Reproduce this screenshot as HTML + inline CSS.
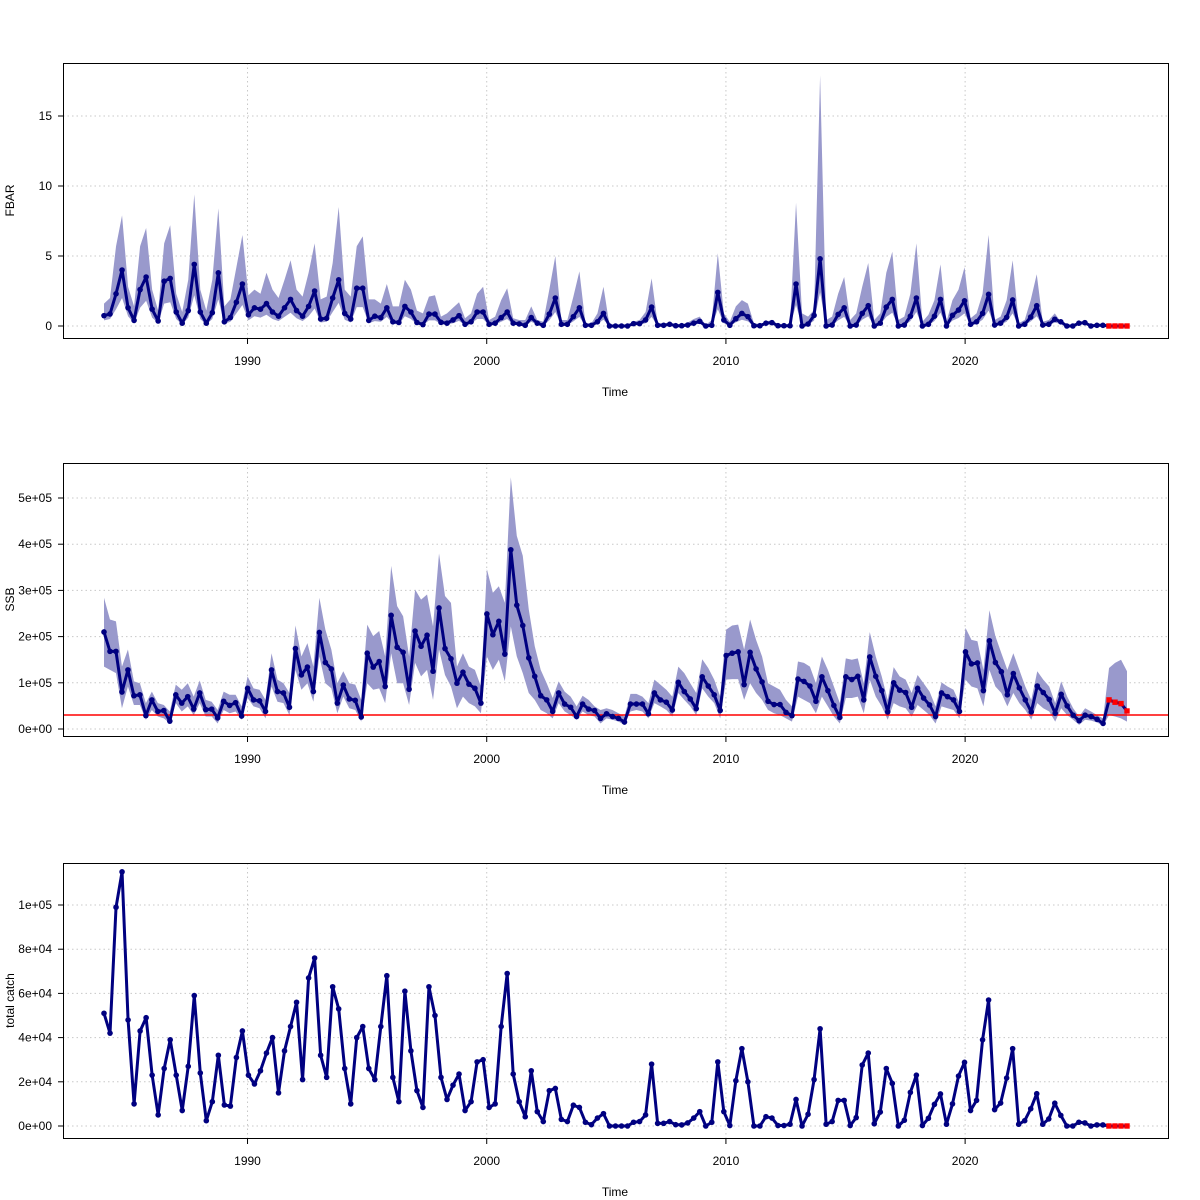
<!DOCTYPE html>
<html><head><meta charset="utf-8"><style>
html,body{margin:0;padding:0;background:#fff}
svg{display:block;font-family:"Liberation Sans",Arial,sans-serif}
</style></head><body>
<svg id="chart" width="1200" height="1200" viewBox="0 0 1200 1200" xmlns="http://www.w3.org/2000/svg"></svg>
<script>
const xTicks=[1990,2000,2010,2020];
const fbarTicks=[0,5,10,15];
const fbarTickLabels=["0","5","10","15"];
const ssbTicks=[0,100000,200000,300000,400000,500000];
const ssbTickLabels=["0e+00","1e+05","2e+05","3e+05","4e+05","5e+05"];
const catchTicks=[0,20000,40000,60000,80000,100000];
const catchTickLabels=["0e+00","2e+04","4e+04","6e+04","8e+04","1e+05"];
const fbar=[0.74,0.86,2.3,4.0, 1.3,0.4,2.6,3.5, 1.2,0.36,3.2,3.4, 1.0,0.2,1.1,4.4, 1.0,0.2,0.95,3.8, 0.3,0.6,1.7,3.0,
0.8,1.3,1.2,1.6, 1.0,0.7,1.3,1.9, 1.1,0.7,1.4,2.5, 0.5,0.55,2.0,3.3, 0.9,0.5,2.7,2.7, 0.4,0.7,0.6,1.3,
0.3,0.25,1.4,1.0, 0.25,0.1,0.85,0.85, 0.26,0.2,0.43,0.74, 0.12,0.3,1.0,1.0, 0.12,0.2,0.6,1.0, 0.2,0.15,0.05,0.6,
0.2,0.05,0.85,2.0, 0.12,0.12,0.67,1.3, 0.05,0.05,0.3,0.9, 0,0,0,0, 0.17,0.17,0.43,1.35, 0.05,0.05,0.12,0.02,
0.02,0.07,0.2,0.33, 0,0.05,2.4,0.43, 0.05,0.52,0.9,0.67, 0.02,0.02,0.2,0.24, 0.02,0.02,0.02,3.0, 0,0.14,0.76,4.8,
0,0.07,0.83,1.3, 0,0.07,0.9,1.45, 0,0.2,1.35,1.9, 0,0.07,0.7,2.0, 0,0.12,0.7,1.9, 0,0.76,1.14,1.8,
0.12,0.3,0.9,2.26, 0.07,0.2,0.62,1.86, 0,0.12,0.64,1.45, 0.07,0.12,0.48,0.3, 0,0,0.2,0.24, 0,0.05,0.05];
const fbarUpper=[1.6,2.0,5.7,7.9, 2.8,1.4,5.7,7.0, 2.6,1.1,5.9,7.2, 2.3,1.0,3.3,9.4, 2.6,1.1,3.3,8.4, 1.4,1.9,4.2,6.5,
2.2,2.6,2.3,3.8, 2.6,2.0,3.3,4.7, 2.6,2.1,3.8,5.9, 1.9,2.1,4.5,8.5, 2.6,2.1,5.7,6.4, 1.9,1.9,1.6,3.0,
1.4,1.4,3.3,2.6, 1.1,0.9,2.1,2.2, 0.67,0.9,1.3,1.7, 0.55,0.9,2.3,2.8, 0.43,0.67,1.85,2.7, 0.55,0.43,0.43,1.4,
0.43,0.3,2.6,5.0, 0.43,0.43,2.1,3.9, 0.2,0.2,0.9,2.8, 0.05,0.05,0.05,0.05, 0.3,0.43,1.0,3.4, 0.2,0.2,0.24,0.14,
0.1,0.24,0.5,0.67, 0.07,0.43,5.2,0.9, 0.3,1.4,1.85,1.6, 0.2,0.14,0.3,0.43, 0.1,0.1,0.1,8.8, 0.9,0.67,1.15,17.9,
0.43,0.67,2.3,3.5, 0.43,0.9,2.8,4.5, 0.43,0.9,3.8,5.3, 0.43,0.67,2.3,5.9, 0.3,0.8,1.85,4.4, 0.3,1.85,2.6,4.2,
0.55,0.9,2.3,6.5, 0.43,0.67,1.85,4.7, 0.2,0.43,1.85,3.7, 0.3,0.43,0.9,0.3, 0.07,0.07,0.3,0.3, 0.02,0.05,0.05];
const fbarLower=[0.4,0.5,1.2,2.0, 0.7,0.2,1.3,1.8, 0.6,0.2,1.6,1.7, 0.5,0.1,0.6,2.2, 0.5,0.1,0.5,1.9, 0.15,0.3,0.9,1.5,
0.4,0.7,0.6,0.8, 0.5,0.35,0.65,0.95, 0.55,0.35,0.7,1.25, 0.25,0.3,1.0,1.65, 0.45,0.25,1.35,1.35, 0.2,0.35,0.3,0.65,
0.15,0.12,0.7,0.5, 0.12,0.05,0.4,0.4, 0.13,0.1,0.2,0.37, 0.06,0.15,0.5,0.5, 0.06,0.1,0.3,0.5, 0.1,0.07,0.02,0.3,
0.1,0.02,0.4,1.0, 0.06,0.06,0.33,0.65, 0.02,0.02,0.15,0.45, 0,0,0,0, 0.08,0.08,0.2,0.65, 0.02,0.02,0.06,0.01,
0.01,0.03,0.1,0.16, 0,0.02,1.2,0.2, 0.02,0.26,0.45,0.33, 0.01,0.01,0.1,0.12, 0.01,0.01,0.01,1.5, 0,0.07,0.38,2.4,
0,0.03,0.4,0.65, 0,0.03,0.45,0.7, 0,0.1,0.65,0.95, 0,0.03,0.35,1.0, 0,0.06,0.35,0.95, 0,0.38,0.57,0.9,
0.06,0.15,0.45,1.1, 0.03,0.1,0.3,0.9, 0,0.06,0.32,0.7, 0.03,0.06,0.24,0.15, 0,0,0.1,0.12, 0,0.02,0.02];
const fbarProj=[0,0,0,0];
const ssbK=[210,168,168,80, 128,72,74,29, 63,38,40,17, 74,56,70,43, 78,42,43,24, 60,51,57,28, 88,63,61,38, 128,81,78,47,
174,117,134,81, 209,144,130,56, 95,65,62,26, 164,134,146,92, 246,177,166,86, 212,179,203,125, 262,174,152,99, 123,97,88,56,
249,204,233,162, 388,268,224,154, 114,72,63,38, 78,54,47,27, 54,43,40,23, 33,27,23,15, 54,54,54,33, 78,63,58,41,
101,81,65,44, 113,93,74,40, 159,164,167,96, 166,130,102,60, 53,53,36,29, 108,103,93,60, 113,83,51,25, 113,107,114,63,
156,114,83,37, 100,84,79,47, 88,67,52,27, 78,70,63,38, 167,141,143,83, 191,144,124,74, 120,89,63,37, 93,79,64,34,
75,50,30,18, 30,27,21,12];
const ssbUpperK=[284,237,233,135, 172,103,99,56, 81,56,52,38, 96,85,99,70, 105,63,59,41, 81,74,74,49, 114,88,85,63, 164,107,99,78,
224,157,186,135, 284,215,172,99, 125,99,96,63, 226,201,212,157, 353,266,244,157, 302,280,291,222, 380,288,273,135, 164,135,128,92,
346,295,309,273, 545,418,375,259, 179,128,99,67, 103,81,70,49, 72,63,49,41, 45,41,34,27, 76,76,70,56, 107,96,85,70,
135,121,99,78, 151,132,107,70, 215,224,226,172, 237,193,157,99, 92,85,63,49, 146,143,135,99, 157,128,92,56, 153,150,153,99,
210,157,114,63, 134,114,107,78, 117,99,81,49, 101,92,85,56, 219,193,190,128, 257,201,164,128, 164,128,92,63, 125,107,92,56,
103,70,45,27, 45,38,30,23, 132,143,150,125];
const ssbLowerK=[135,128,121,45, 92,52,52,20, 41,27,23,12, 56,38,49,30, 56,27,27,12, 41,34,38,20, 67,49,45,23, 92,59,56,30,
128,85,99,59, 157,99,88,34, 70,45,41,16, 99,85,88,56, 164,99,99,52, 143,114,128,63, 172,117,92,45, 70,56,49,34,
157,128,150,103, 222,157,121,78, 63,41,34,23, 56,38,30,20, 38,30,27,12, 23,20,16,9, 38,41,38,23, 56,49,41,27,
78,63,49,30, 88,70,56,23, 107,108,108,63, 99,78,63,41, 34,30,23,16, 70,63,56,34, 70,49,27,12, 67,67,70,34,
107,70,49,20, 56,49,45,27, 52,41,30,12, 49,45,41,23, 107,92,88,49, 128,92,78,49, 78,56,41,20, 56,45,38,16,
45,30,20,9, 20,18,14,7, 30,27,23,16];
const ssbProjK=[63,58,55,39];
const ssbRefK=30.4;
const catchK=[51,42,99,115, 48,10,43,49, 23,5,26,39, 23,7,27,59, 24,2.4,11,32, 9.5,9,31,43, 23,19,25,33, 40,15,34,45,
56,21,67,76, 32,22,63,53, 26,10,40,45, 26,21,45,68, 22,11,61,34, 16,8.4,63,50, 22,12,18.5,23.5, 7,11,29,30,
8.4,10,45,69, 23.5,11,4.2,25, 6.5,2,16,17, 3,2,9.4,8.4, 1.7,0.6,3.6,5.6, 0,0,0,0, 1.7,2,5,28, 1.2,1.2,2,0.6,
0.5,1.4,3.6,6.5, 0,1.7,29,6.5, 0.2,20.5,35,20, 0,0,4.2,3.6, 0.2,0.2,0.8,12, 0,5.3,21,44, 0.8,2,11.6,11.6, 0.2,3.8,27.6,33,
1,6.3,26,19.3, 0,2.6,15.2,23, 0.2,3.5,9.8,14.5, 0.8,10,22.6,28.8, 7,11.6,39,57, 7.4,10.4,21.7,35, 0.8,2.4,7.8,14.6, 0.8,3.2,10.3,4.8,
0,0,1.7,1.4, 0,0.5,0.5];
const catchProjK=[0,0,0,0];

const NS="http://www.w3.org/2000/svg";
const svg=document.getElementById('chart');
function mk(tag,attrs,parent){const e=document.createElementNS(NS,tag);for(const k in attrs)e.setAttribute(k,attrs[k]);(parent||svg).appendChild(e);return e;}
function xScale(t){return 104+(t-1984)*23.92;}

function panel(cfg){
  const g=mk('g',{});
  
  
  const y=v=>cfg.y0+v*cfg.k;
  const n=cfg.vals.length+cfg.proj.length;
  const step=(cfg.xEnd-104)/(n-1);
  const xi=i=>104+i*step;
  cfg.ticks.forEach(v=>{const l=mk('line',{x1:63,x2:1168,y1:y(v),y2:y(v),stroke:'#c8c8c8','stroke-dasharray':'1.5,3','stroke-width':1},g);
    });
  xTicks.forEach(t=>{const l=mk('line',{x1:xScale(t),x2:xScale(t),y1:cfg.top,y2:cfg.bottom,stroke:'#c8c8c8','stroke-dasharray':'1.5,3','stroke-width':1},g);
    });
  if(cfg.up){
    let pts=[];
    for(let i=0;i<cfg.up.length;i++)pts.push(xi(i)+','+y(cfg.up[i]*cfg.s));
    for(let i=cfg.lo.length-1;i>=0;i--)pts.push(xi(i)+','+y(cfg.lo[i]*cfg.s));
    const p=mk('polygon',{points:pts.join(' '),fill:'#9999cc',stroke:'none'},g);
    
  }
  if(cfg.ref!==undefined){
    const l=mk('line',{x1:63,x2:1168,y1:y(cfg.ref*cfg.s),y2:y(cfg.ref*cfg.s),stroke:'#ff0000','stroke-width':1.5},g);
    
  }
  const all=cfg.vals.concat(cfg.proj);
  const lp=all.map((v,i)=>xi(i)+','+y(v*cfg.s)).join(' ');
  const pl=mk('polyline',{points:lp,fill:'none',stroke:'#000080','stroke-width':3,'stroke-linejoin':'round'},g);
  
  cfg.vals.forEach((v,i)=>{const c=mk('circle',{cx:xi(i),cy:y(v*cfg.s),r:2.8,fill:'#000080'},g);
    });
  cfg.proj.forEach((v,j)=>{const i=cfg.vals.length+j;const r=mk('rect',{x:xi(i)-2.7,y:y(v*cfg.s)-2.7,width:5.4,height:5.4,fill:'#ff0000'},g);
    });
  const b=mk('rect',{x:63.5,y:cfg.top+0.5,width:1105,height:cfg.bottom-cfg.top,fill:'none',stroke:'#000','stroke-width':1},g);
  
  cfg.ticks.forEach((v,j)=>{mk('line',{x1:58,x2:63,y1:y(v),y2:y(v),stroke:'#000'},g);
    const t=mk('text',{x:52,y:y(v)+4,'text-anchor':'end','font-size':12,fill:'#000'},g);t.textContent=cfg.labels[j];
    });
  xTicks.forEach(tk=>{mk('line',{x1:xScale(tk),x2:xScale(tk),y1:cfg.bottom,y2:cfg.bottom+6,stroke:'#000'},g);
    const t=mk('text',{x:xScale(tk),y:cfg.bottom+27,'text-anchor':'middle','font-size':12,fill:'#000'},g);t.textContent=String(tk);
    });
  mk('line',{x1:xScale(xTicks[0]),x2:xScale(xTicks[xTicks.length-1]),y1:cfg.bottom+0.5,y2:cfg.bottom+0.5,stroke:'#000'},g);
  const xt=mk('text',{x:615,y:cfg.bottom+58,'text-anchor':'middle','font-size':12,fill:'#000'},g);xt.textContent='Time';
  
  const yc=(cfg.top+cfg.bottom)/2;
  const yt=mk('text',{x:14,y:yc,'text-anchor':'middle','font-size':12,fill:'#000',transform:'rotate(-90 14 '+yc+')'},g);yt.textContent=cfg.title;
  
}
panel({name:'fbar',title:'FBAR',top:63,bottom:338,y0:326,k:-14,s:1,xEnd:1127,ticks:fbarTicks,labels:fbarTickLabels,vals:fbar,proj:fbarProj,up:fbarUpper,lo:fbarLower});
panel({name:'ssb',title:'SSB',top:463,bottom:736,y0:729,k:-0.000462,s:1000,xEnd:1127,ticks:ssbTicks,labels:ssbTickLabels,vals:ssbK,proj:ssbProjK,up:ssbUpperK,lo:ssbLowerK,ref:ssbRefK});
panel({name:'catch',title:'total catch',top:863,bottom:1138,y0:1126,k:-0.00221,s:1000,xEnd:1127,ticks:catchTicks,labels:catchTickLabels,vals:catchK,proj:catchProjK});
</script>
</body></html>
